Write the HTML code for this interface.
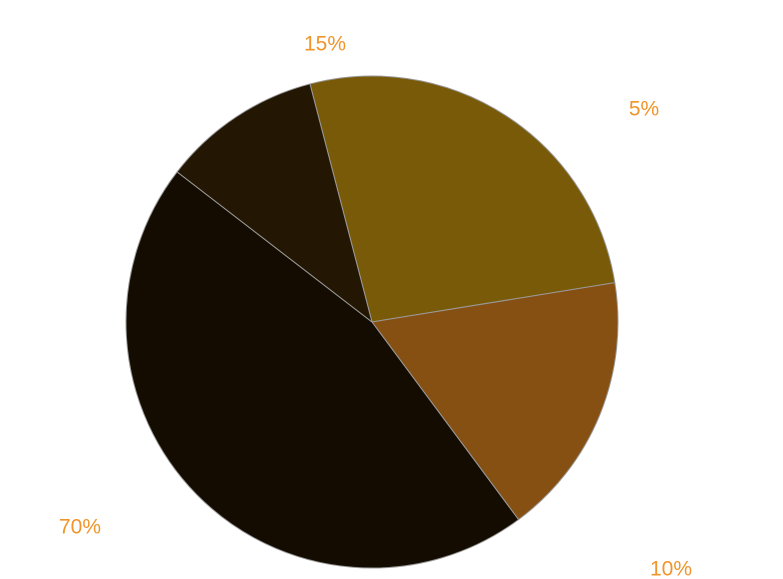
<!DOCTYPE html>
<html><head><meta charset="utf-8"><style>
html,body{margin:0;padding:0;background:#fff;}
svg{display:block;}
text{font-family:"Liberation Sans",sans-serif;font-size:21px;fill:#f0952a;}
</style></head><body>
<svg id="chart" width="783" height="579" viewBox="0 0 783 579"></svg>
<script>
const categories = ["olive", "brown", "dark", "darker"];
const values = [26.5, 17.4, 45.6, 10.5];
const labels = ["5%", "10%", "70%", "15%"];
const colors = ["#785a09", "#865012", "#140c00", "#231703"];
const labelX = [644, 671, 80, 325];
const labelY = [110, 570, 528, 45];
const cx = 372, cy = 322, r = 246, startDeg = 345.4;
const svg = document.getElementById('chart');
const NS = "http://www.w3.org/2000/svg";
const total = values.reduce((a,b)=>a+b,0);
function pt(deg){const a=deg*Math.PI/180;return [cx+r*Math.sin(a), cy-r*Math.cos(a)];}
let acc = startDeg;
values.forEach((v,i)=>{
  const sweep = v/total*360;
  const [x1,y1]=pt(acc), [x2,y2]=pt(acc+sweep);
  const p=document.createElementNS(NS,'path');
  p.setAttribute('d',`M${cx},${cy}L${x1},${y1}A${r},${r} 0 ${sweep>180?1:0} 1 ${x2},${y2}Z`);
  p.setAttribute('fill',colors[i]);
  p.setAttribute('stroke','#999');
  p.setAttribute('stroke-width','1');
  
  
  svg.appendChild(p);
  acc += sweep;
});
labels.forEach((l,i)=>{
  const t=document.createElementNS(NS,'text');
  t.setAttribute('x',labelX[i]);t.setAttribute('y',labelY[i]);
  t.setAttribute('text-anchor','middle');t.setAttribute('dominant-baseline','middle');
  t.textContent=l;
  
  
  svg.appendChild(t);
});
</script>
</body></html>
